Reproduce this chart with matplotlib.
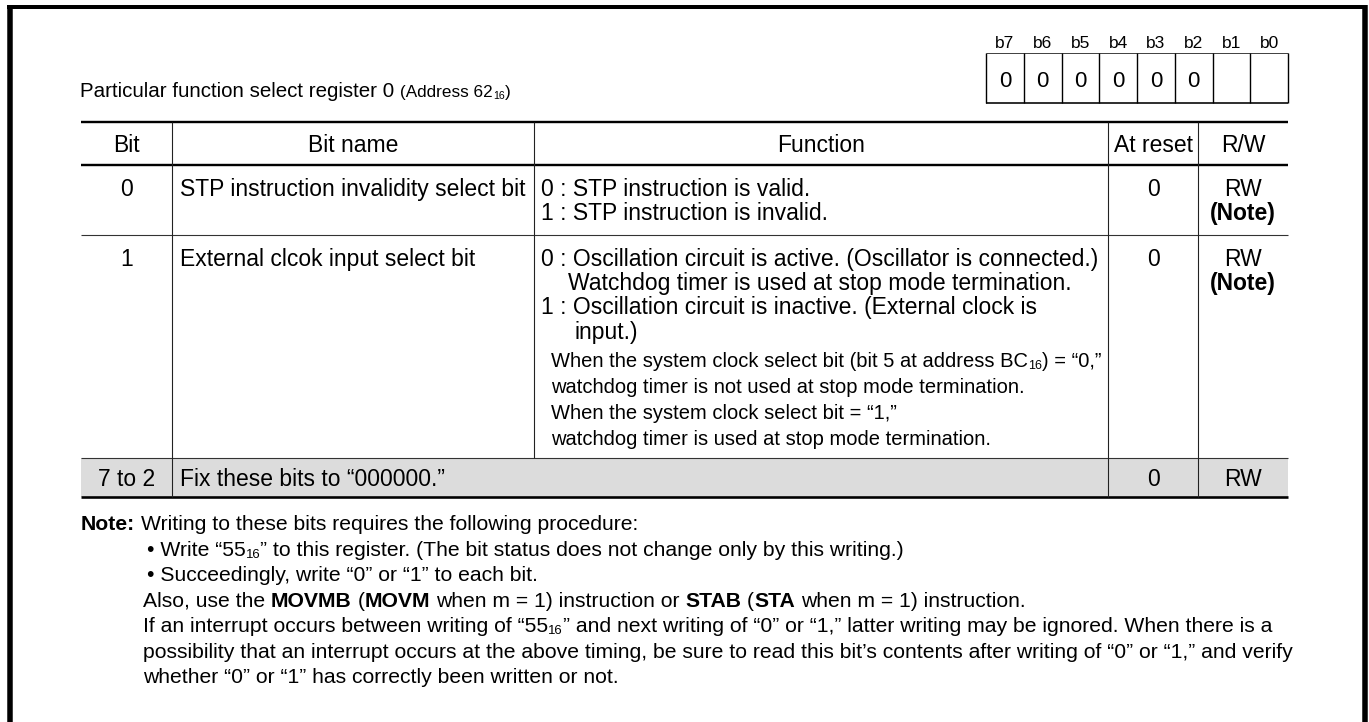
import re
import matplotlib
matplotlib.use("Agg")
import matplotlib.pyplot as plt

plt.rcParams['font.family'] = ['Liberation Sans', 'DejaVu Sans']

# ---- content ----
title = "Particular function select register 0"
title_addr = "(Address 62_{16})"
bit_labels = ["b7", "b6", "b5", "b4", "b3", "b2", "b1", "b0"]
bit_values = ["0", "0", "0", "0", "0", "0", "", ""]

header = ["Bit", "Bit name", "Function", "At reset", "R/W"]

bit_nums = ["0", "1"]
bit_names = ["STP instruction invalidity select bit",
             "External clcok input select bit"]
functions = [
    ["0 : STP instruction is valid.",
     "1 : STP instruction is invalid."],
    ["0 : Oscillation circuit is active. (Oscillator is connected.)",
     "Watchdog timer is used at stop mode termination.",
     "1 : Oscillation circuit is inactive. (External clock is",
     "input.)",
     "When the system clock select bit (bit 5 at address BC_{16}) = \u201c0,\u201d",
     "watchdog timer is not used at stop mode termination.",
     "When the system clock select bit = \u201c1,\u201d",
     "watchdog timer is used at stop mode termination."],
]
at_reset = ["0", "0"]
rw = ["RW", "RW"]
rw_note = ["**(Note)**", "**(Note)**"]

fixed_bits = "7 to 2"
fixed_text = "Fix these bits to \u201c000000.\u201d"
fixed_reset = "0"
fixed_rw = "RW"

notes = [
    "**Note:** Writing to these bits requires the following procedure:",
    "\u2022 Write \u201c55_{16}\u201d to this register. (The bit status does not change only by this writing.)",
    "\u2022 Succeedingly, write \u201c0\u201d or \u201c1\u201d to each bit.",
    "Also, use the **MOVMB** (**MOVM** when m = 1) instruction or **STAB** (**STA** when m = 1) instruction.",
    "If an interrupt occurs between writing of \u201c55_{16}\u201d and next writing of \u201c0\u201d or \u201c1,\u201d latter writing may be ignored. When there is a",
    "possibility that an interrupt occurs at the above timing, be sure to read this bit\u2019s contents after writing of \u201c0\u201d or \u201c1,\u201d and verify",
    "whether \u201c0\u201d or \u201c1\u201d has correctly been written or not.",
]

# ---- layout (pixels) ----
W, H = 1369, 722
fig = plt.figure(figsize=(W / 100, H / 100), dpi=100)
ax = fig.add_axes([0, 0, 1, 1])
ax.set_xlim(0, W)
ax.set_ylim(H, 0)
ax.axis('off')
R = fig.canvas.get_renderer()

PX = 0.72  # points per pixel

def line(xs, ys, lw, color='black', cap='butt'):
    ax.plot(xs, ys, color=color, lw=lw * PX, solid_capstyle=cap)

def parse(s):
    out = []
    for tok in re.split(r'(\*\*.+?\*\*|_\{.+?\})', s):
        if not tok:
            continue
        if tok.startswith('**'):
            out.append((tok[2:-2], 'bold', False))
        elif tok.startswith('_{'):
            out.append((tok[2:-1], 'normal', True))
        else:
            out.append((tok, 'normal', False))
    return out

_sp = {}
def width(s, size, weight):
    t = ax.text(0, 0, s, fontsize=size, fontweight=weight)
    w = t.get_window_extent(renderer=R).width
    t.remove()
    return w

def space(size, weight):
    k = (size, weight)
    if k not in _sp:
        _sp[k] = width("a a", size, weight) - width("aa", size, weight)
    return _sp[k]

def rich(x, yc, s, size, ha='left', weight=None):
    pieces = []
    total = 0
    for txt, wt, sub in parse(s):
        if weight:
            wt = weight
        sz = size * 0.62 if sub else size
        core = txt.strip(' ')
        lead = (len(txt) - len(txt.lstrip(' '))) * space(sz, wt)
        trail = (len(txt) - len(txt.rstrip(' '))) * space(sz, wt)
        w = width(core, sz, wt) if core else 0
        pieces.append((core, sz, wt, sub, total + lead))
        total += lead + w + trail
    x0 = x - total / 2 if ha == 'center' else x
    base = yc + 0.36 * size / PX
    for core, sz, wt, sub, off in pieces:
        if not core:
            continue
        yb = base + (0.1 * size / PX if sub else 0)
        ax.text(x0 + off, yb, core, fontsize=sz, fontweight=wt,
                va='baseline', ha='left', color='black')
    return x0 + total

# outer frame
line([9.5, 9.5], [5, H + 5], 5.5)
line([7, 1367], [7, 7], 4)
line([1364.5, 1364.5], [5, H + 5], 5.5)

# title
xe = rich(80, 90, title, 14.8)
rich(xe + 6, 91, title_addr, 12.3)

# register bit box
bx0, bx1, by0, by1 = 986, 1288, 53, 103
cw = (bx1 - bx0) / len(bit_labels)
line([bx0, bx1], [by0, by0], 1.0, color='#444444')
line([bx0, bx1], [by1, by1], 1.6)
for i in range(len(bit_labels) + 1):
    line([bx0 + i * cw] * 2, [by0, by1], 1.4)
for i, (lab, val) in enumerate(zip(bit_labels, bit_values)):
    cx = bx0 + (i + 0.5) * cw
    rich(cx, 42, lab, 12.5, ha='center')
    if val:
        rich(cx, 79, val, 16, ha='center')

# table geometry
cols = [81, 172, 534, 1108, 1198, 1288]
y_top, y_head = 122, 165
y_row0, y_row1, y_fix = 235, 458, 497
row0_lines = [188, 212]
row1_lines = [258, 282, 306, 331, 360, 386, 412, 438]
fn1_indent = [0, 27, 0, 33, 10, 10, 10, 10]
fn1_small = [False, False, False, False, True, True, True, True]
TS = 16.5
SS = 14.5
NS = 15.25

# gray fixed row
ax.fill_between([cols[0], cols[-1]], y_row1, y_fix, color='#dcdcdc', lw=0)

line([cols[0], cols[-1]], [y_top, y_top], 2.4)
line([cols[0], cols[-1]], [y_head, y_head], 2.4)
line([cols[0], cols[-1]], [y_row0, y_row0], 1.1, color='#333333')
line([cols[0], cols[-1]], [y_row1, y_row1], 1.1, color='#333333')
line([cols[0], cols[-1]], [y_fix, y_fix], 2.6)
for c in [cols[1], cols[3], cols[4]]:
    line([c, c], [y_top, y_fix], 1.1, color='#222222')
line([cols[2], cols[2]], [y_top, y_row1], 1.1, color='#222222')

centers = [(cols[i] + cols[i + 1]) / 2 for i in range(5)]
hy = (y_top + y_head) / 2
for i, h in enumerate(header):
    rich(centers[i], hy, h, TS, ha='center')

name_x = cols[1] + 8
fn_x = cols[2] + 7
row_lines = [row0_lines, row1_lines]
for r in range(2):
    ys = row_lines[r]
    rich(centers[0], ys[0], bit_nums[r], TS, ha='center')
    rich(name_x, ys[0], bit_names[r], TS)
    for k, txt in enumerate(functions[r]):
        if r == 1:
            rich(fn_x + fn1_indent[k], ys[k], txt, SS if fn1_small[k] else TS)
        else:
            rich(fn_x, ys[k], txt, TS)
    rich(centers[3], ys[0], at_reset[r], TS, ha='center')
    rich(centers[4], ys[0], rw[r], TS, ha='center')
    rich(centers[4], ys[1], rw_note[r], TS, ha='center')

fy = (y_row1 + y_fix) / 2
rich(centers[0], fy, fixed_bits, TS, ha='center')
rich(name_x, fy, fixed_text, TS)
rich(centers[3], fy, fixed_reset, TS, ha='center')
rich(centers[4], fy, fixed_rw, TS, ha='center')

# note block
note_y = [522, 548, 573, 599, 624, 650, 675]
note_x = [81, 147, 147, 143, 143, 143, 143]
for s, x, y in zip(notes, note_x, note_y):
    rich(x, y, s, NS)

fig.savefig("out.png", dpi=100)
